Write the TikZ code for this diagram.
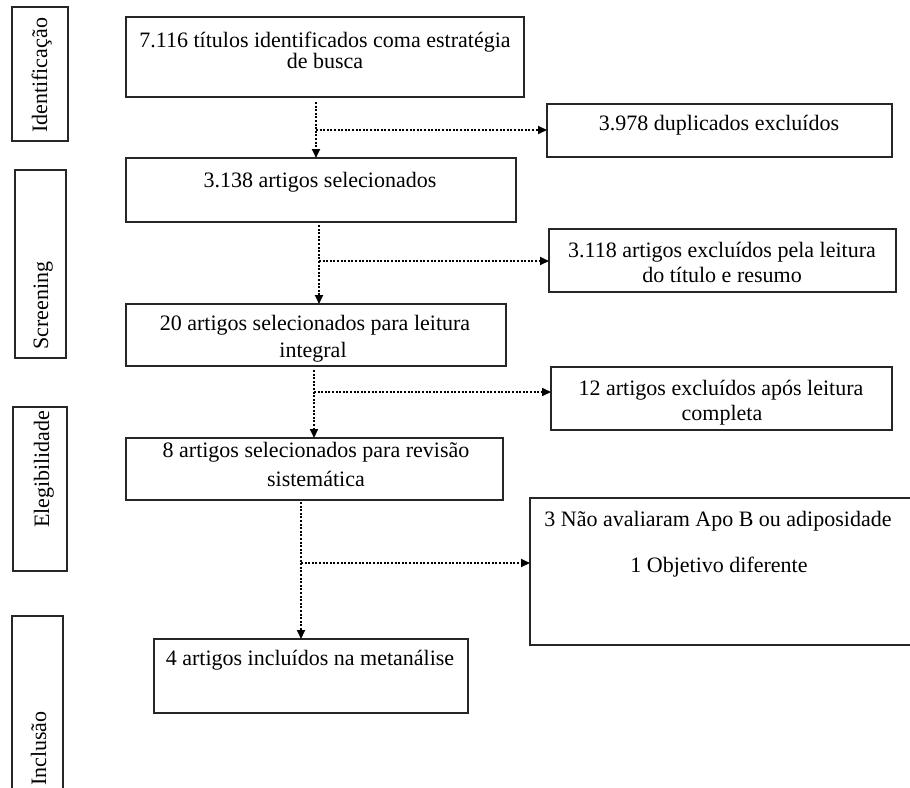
\documentclass[tikz,border=0pt]{standalone}
\usepackage{fontspec}
\setmainfont{Liberation Serif}
\usetikzlibrary{arrows.meta}
\tikzset{
  box/.style={draw=black!85, line width=1.4pt, inner sep=0pt, outer sep=0pt},
  txt/.style={anchor=base, inner sep=0pt, font=\fontsize{22}{25}\selectfont},
  vtxt/.style={anchor=base west, rotate=90, inner sep=0pt, font=\fontsize{22}{25}\selectfont},
  flow/.style={line width=2pt, dash pattern=on 2pt off 1.6pt, -{Triangle[length=9pt,width=8pt]}}
}
\begin{document}
\begin{tikzpicture}[x=1pt,y=-1pt]
\useasboundingbox (0,0) rectangle (910,787);
\clip (0,0) rectangle (910,787);
\fill[white] (0,0) rectangle (910,787);

% phase label boxes
\node[box, minimum width=56pt, minimum height=134pt] (L1) at (40,74) {};
\node[box, minimum width=51pt, minimum height=188pt] (L2) at (40.5,264) {};
\node[box, minimum width=54pt, minimum height=164pt] (L3) at (40,489) {};
\node[box, minimum width=51pt, minimum height=190pt] (L4) at (37.5,711) {};
\node[vtxt] (L1t) at (47,133) {Identificação};
\node[vtxt] (L2t) at (48,350) {Screening};
\node[vtxt] (L3t) at (49,528) {Elegibilidade};
\node[vtxt] (L4t) at (46,786) {Inclusão};

% main boxes
\node[box, minimum width=398pt, minimum height=80pt] (b1) at (325,57) {};
\node[box, minimum width=390pt, minimum height=64pt] (b2) at (321,190) {};
\node[box, minimum width=380pt, minimum height=62pt] (b3) at (316,335) {};
\node[box, minimum width=377pt, minimum height=62pt] (b4) at (314.5,469) {};
\node[box, minimum width=314pt, minimum height=74pt] (b5) at (311,676) {};

\node[txt] (b1a) at (325,47) {7.116 títulos identificados coma estratégia};
\node[txt] (b1b) at (325,68) {de busca};
\node[txt] (b2a) at (320,187) {3.138 artigos selecionados};
\node[txt] (b3a) at (315,330) {20 artigos selecionados para leitura};
\node[txt] (b3b) at (313,357) {integral};
\node[txt] (b4a) at (316,457) {8 artigos selecionados para revisão};
\node[txt] (b4b) at (316,486) {sistemática};
\node[txt] (b5a) at (310,665) {4 artigos incluídos na metanálise};

% side boxes
\node[box, minimum width=345pt, minimum height=53pt] (s1) at (719.5,130.5) {};
\node[box, minimum width=347pt, minimum height=63pt] (s2) at (722.5,260.5) {};
\node[box, minimum width=341pt, minimum height=63pt] (s3) at (721.5,398.5) {};
\node[box, minimum width=390pt, minimum height=147pt] (s4) at (725,571.5) {};

\node[txt] (s1a) at (719,130) {3.978 duplicados excluídos};
\node[txt] (s2a) at (722,257) {3.118 artigos excluídos pela leitura};
\node[txt] (s2b) at (722,282) {do título e resumo};
\node[txt] (s3a) at (721,395) {12 artigos excluídos após leitura};
\node[txt] (s3b) at (722,420) {completa};
\node[txt] (s4a) at (718,526) {3 Não avaliaram Apo B ou adiposidade};
\node[txt] (s4b) at (719,572) {1 Objetivo diferente};

% junctions
\coordinate (j1) at (316,130);
\coordinate (j2) at (319,261);
\coordinate (j3) at (314,392);
\coordinate (j4) at (301,563);

% connectors
\draw[flow] ([yshift=-5pt]b1.south -| j1) -- (b2.north -| j1);
\draw[flow] (j1) -- (s1.west |- j1);
\draw[flow] ([yshift=-3pt]b2.south -| j2) -- (b3.north -| j2);
\draw[flow] (j2) -- (s2.west |- j2);
\draw[flow] ([yshift=-4pt]b3.south -| j3) -- (b4.north -| j3);
\draw[flow] (j3) -- (s3.west |- j3);
\draw[flow] ([yshift=-2pt]b4.south -| j4) -- (b5.north -| j4);
\draw[flow] (j4) -- (s4.west |- j4);
\end{tikzpicture}
\end{document}
